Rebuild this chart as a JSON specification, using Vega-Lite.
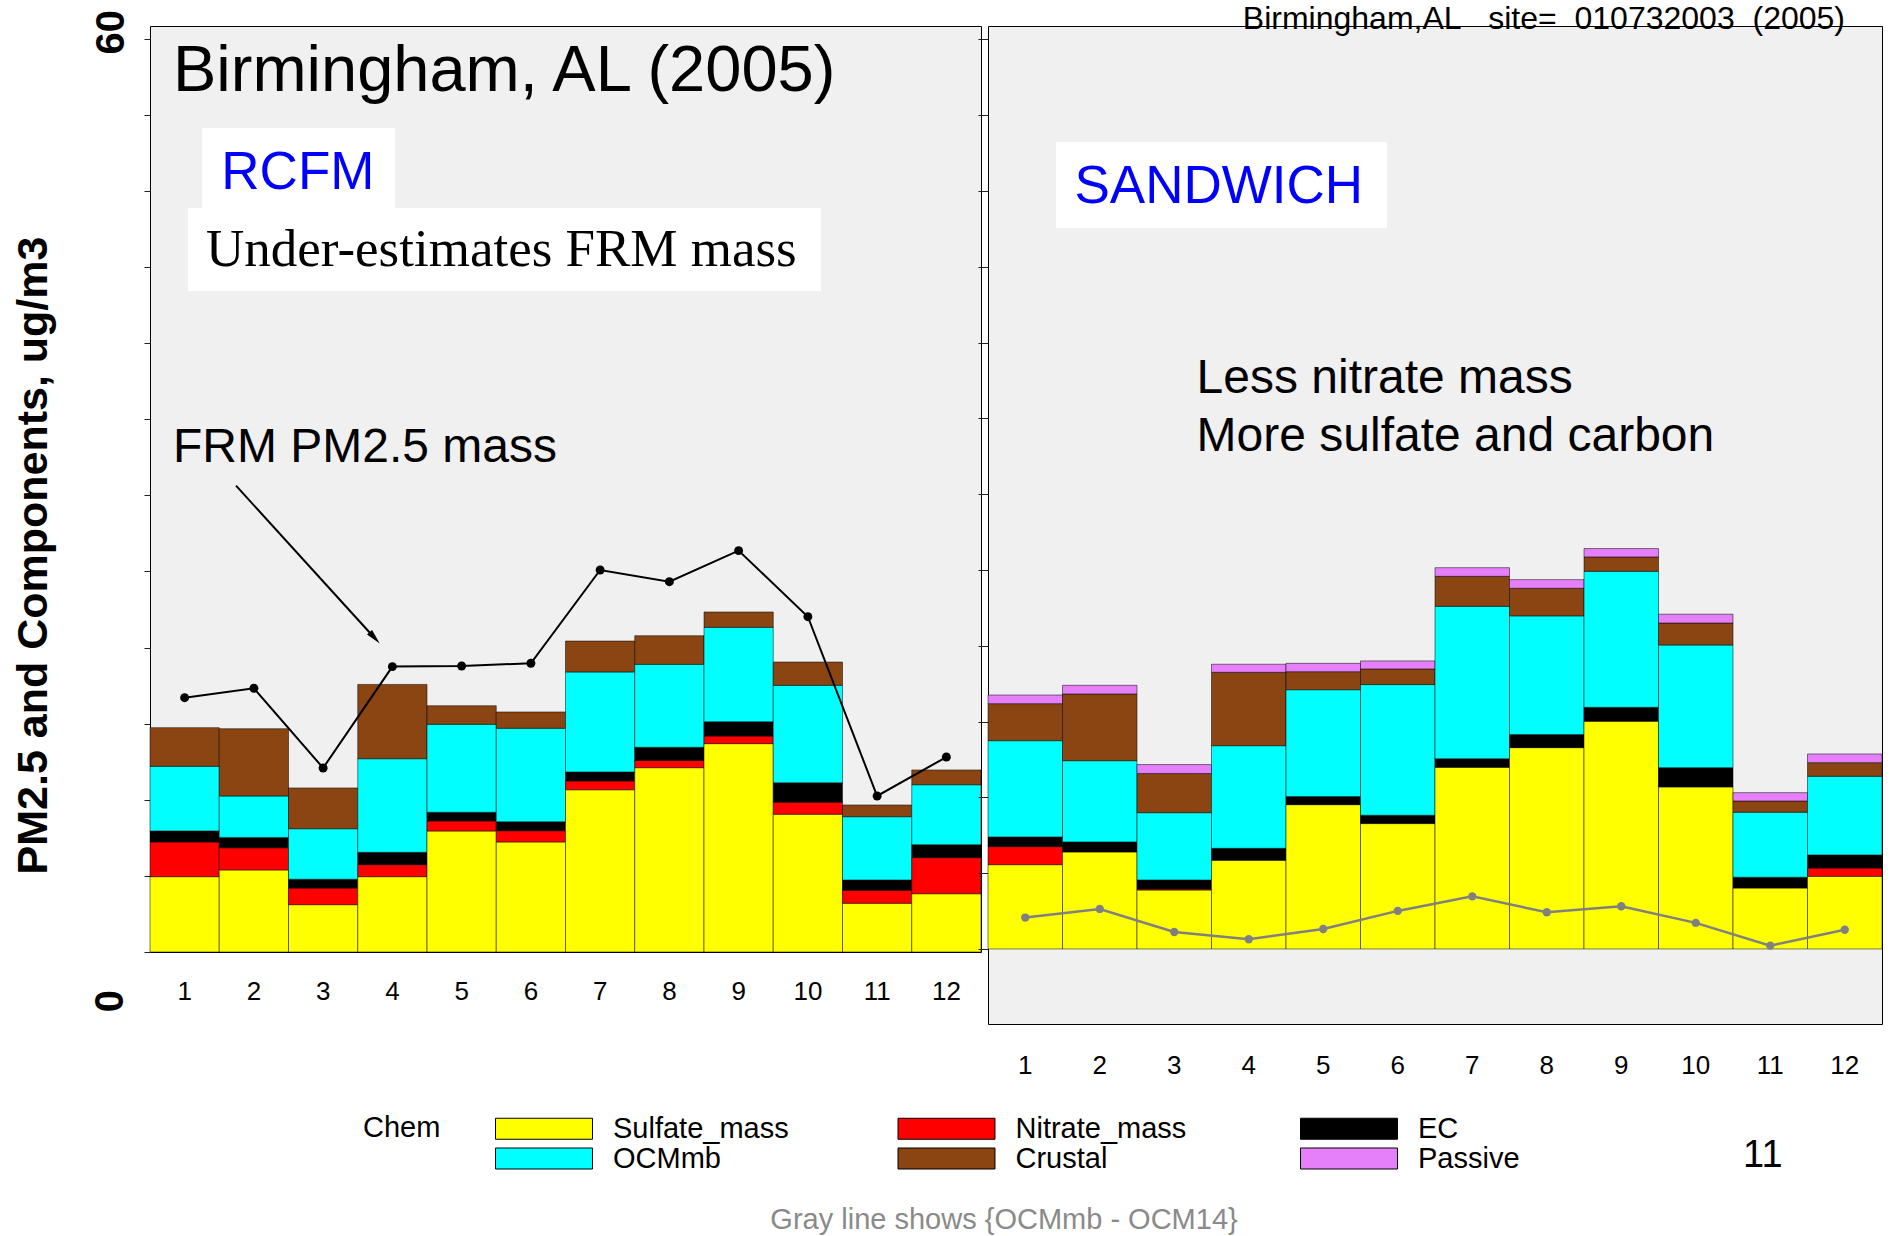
{
  "$schema": "https://vega.github.io/schema/vega-lite/v6.json",
  "background": "white",
  "autosize": {"type": "pad"},
  "padding": {"left": 11, "top": 2, "right": 5, "bottom": 0},
  "bounds": "flush",
  "spacing": 7,
  "config": {
    "font": "Liberation Sans",
    "view": {"fill": "#f0f0f0", "stroke": "black", "strokeWidth": 1},
    "axis": {"grid": false, "domain": false, "labelFont": "Liberation Sans", "labelColor": "black", "tickColor": "#222"},
    "text": {"font": "Liberation Sans", "color": "black"}
  },
  "datasets": {
    "rcfm": [
      {"month": 1, "chem": "Sulfate_mass", "value": 4.95}, {"month": 1, "chem": "Nitrate_mass", "value": 2.28}, {"month": 1, "chem": "EC", "value": 0.72}, {"month": 1, "chem": "OCMmb", "value": 4.25}, {"month": 1, "chem": "Crustal", "value": 2.54},
      {"month": 2, "chem": "Sulfate_mass", "value": 5.39}, {"month": 2, "chem": "Nitrate_mass", "value": 1.46}, {"month": 2, "chem": "EC", "value": 0.68}, {"month": 2, "chem": "OCMmb", "value": 2.72}, {"month": 2, "chem": "Crustal", "value": 4.42},
      {"month": 3, "chem": "Sulfate_mass", "value": 3.11}, {"month": 3, "chem": "Nitrate_mass", "value": 1.09}, {"month": 3, "chem": "EC", "value": 0.58}, {"month": 3, "chem": "OCMmb", "value": 3.32}, {"month": 3, "chem": "Crustal", "value": 2.68},
      {"month": 4, "chem": "Sulfate_mass", "value": 4.95}, {"month": 4, "chem": "Nitrate_mass", "value": 0.79}, {"month": 4, "chem": "EC", "value": 0.81}, {"month": 4, "chem": "OCMmb", "value": 6.15}, {"month": 4, "chem": "Crustal", "value": 4.88},
      {"month": 5, "chem": "Sulfate_mass", "value": 7.95}, {"month": 5, "chem": "Nitrate_mass", "value": 0.66}, {"month": 5, "chem": "EC", "value": 0.57}, {"month": 5, "chem": "OCMmb", "value": 5.78}, {"month": 5, "chem": "Crustal", "value": 1.22},
      {"month": 6, "chem": "Sulfate_mass", "value": 7.23}, {"month": 6, "chem": "Nitrate_mass", "value": 0.74}, {"month": 6, "chem": "EC", "value": 0.59}, {"month": 6, "chem": "OCMmb", "value": 6.14}, {"month": 6, "chem": "Crustal", "value": 1.07},
      {"month": 7, "chem": "Sulfate_mass", "value": 10.66}, {"month": 7, "chem": "Nitrate_mass", "value": 0.58}, {"month": 7, "chem": "EC", "value": 0.59}, {"month": 7, "chem": "OCMmb", "value": 6.57}, {"month": 7, "chem": "Crustal", "value": 2.03},
      {"month": 8, "chem": "Sulfate_mass", "value": 12.11}, {"month": 8, "chem": "Nitrate_mass", "value": 0.48}, {"month": 8, "chem": "EC", "value": 0.86}, {"month": 8, "chem": "OCMmb", "value": 5.45}, {"month": 8, "chem": "Crustal", "value": 1.88},
      {"month": 9, "chem": "Sulfate_mass", "value": 13.69}, {"month": 9, "chem": "Nitrate_mass", "value": 0.5}, {"month": 9, "chem": "EC", "value": 0.94}, {"month": 9, "chem": "OCMmb", "value": 6.2}, {"month": 9, "chem": "Crustal", "value": 1.01},
      {"month": 10, "chem": "Sulfate_mass", "value": 9.05}, {"month": 10, "chem": "Nitrate_mass", "value": 0.79}, {"month": 10, "chem": "EC", "value": 1.28}, {"month": 10, "chem": "OCMmb", "value": 6.4}, {"month": 10, "chem": "Crustal", "value": 1.53},
      {"month": 11, "chem": "Sulfate_mass", "value": 3.2}, {"month": 11, "chem": "Nitrate_mass", "value": 0.85}, {"month": 11, "chem": "EC", "value": 0.68}, {"month": 11, "chem": "OCMmb", "value": 4.16}, {"month": 11, "chem": "Crustal", "value": 0.77},
      {"month": 12, "chem": "Sulfate_mass", "value": 3.83}, {"month": 12, "chem": "Nitrate_mass", "value": 2.37}, {"month": 12, "chem": "EC", "value": 0.85}, {"month": 12, "chem": "OCMmb", "value": 3.94}, {"month": 12, "chem": "Crustal", "value": 0.97}
    ],
    "frm": [
      {"month": 1, "frm": 16.71}, {"month": 2, "frm": 17.33}, {"month": 3, "frm": 12.09}, {"month": 4, "frm": 18.75},
      {"month": 5, "frm": 18.79}, {"month": 6, "frm": 18.97}, {"month": 7, "frm": 25.1}, {"month": 8, "frm": 24.33},
      {"month": 9, "frm": 26.37}, {"month": 10, "frm": 22.03}, {"month": 11, "frm": 10.25}, {"month": 12, "frm": 12.81}
    ],
    "sandwich": [
      {"month": 1, "chem": "Sulfate_mass", "value": 5.56}, {"month": 1, "chem": "Nitrate_mass", "value": 1.19}, {"month": 1, "chem": "EC", "value": 0.64}, {"month": 1, "chem": "OCMmb", "value": 6.35}, {"month": 1, "chem": "Crustal", "value": 2.44}, {"month": 1, "chem": "Passive", "value": 0.57},
      {"month": 2, "chem": "Sulfate_mass", "value": 6.4}, {"month": 2, "chem": "EC", "value": 0.66}, {"month": 2, "chem": "OCMmb", "value": 5.36}, {"month": 2, "chem": "Crustal", "value": 4.4}, {"month": 2, "chem": "Passive", "value": 0.57},
      {"month": 3, "chem": "Sulfate_mass", "value": 3.89}, {"month": 3, "chem": "Nitrate_mass", "value": 0.07}, {"month": 3, "chem": "EC", "value": 0.59}, {"month": 3, "chem": "OCMmb", "value": 4.44}, {"month": 3, "chem": "Crustal", "value": 2.58}, {"month": 3, "chem": "Passive", "value": 0.59},
      {"month": 4, "chem": "Sulfate_mass", "value": 5.85}, {"month": 4, "chem": "EC", "value": 0.79}, {"month": 4, "chem": "OCMmb", "value": 6.77}, {"month": 4, "chem": "Crustal", "value": 4.84}, {"month": 4, "chem": "Passive", "value": 0.53},
      {"month": 5, "chem": "Sulfate_mass", "value": 9.52}, {"month": 5, "chem": "EC", "value": 0.53}, {"month": 5, "chem": "OCMmb", "value": 7.05}, {"month": 5, "chem": "Crustal", "value": 1.19}, {"month": 5, "chem": "Passive", "value": 0.55},
      {"month": 6, "chem": "Sulfate_mass", "value": 8.27}, {"month": 6, "chem": "EC", "value": 0.55}, {"month": 6, "chem": "OCMmb", "value": 8.62}, {"month": 6, "chem": "Crustal", "value": 1.03}, {"month": 6, "chem": "Passive", "value": 0.53},
      {"month": 7, "chem": "Sulfate_mass", "value": 11.98}, {"month": 7, "chem": "EC", "value": 0.57}, {"month": 7, "chem": "OCMmb", "value": 10.05}, {"month": 7, "chem": "Crustal", "value": 1.98}, {"month": 7, "chem": "Passive", "value": 0.57},
      {"month": 8, "chem": "Sulfate_mass", "value": 13.28}, {"month": 8, "chem": "EC", "value": 0.86}, {"month": 8, "chem": "OCMmb", "value": 7.83}, {"month": 8, "chem": "Crustal", "value": 1.82}, {"month": 8, "chem": "Passive", "value": 0.57},
      {"month": 9, "chem": "Sulfate_mass", "value": 15.02}, {"month": 9, "chem": "EC", "value": 0.92}, {"month": 9, "chem": "OCMmb", "value": 8.97}, {"month": 9, "chem": "Crustal", "value": 0.95}, {"month": 9, "chem": "Passive", "value": 0.55},
      {"month": 10, "chem": "Sulfate_mass", "value": 10.69}, {"month": 10, "chem": "EC", "value": 1.27}, {"month": 10, "chem": "OCMmb", "value": 8.09}, {"month": 10, "chem": "Crustal", "value": 1.45}, {"month": 10, "chem": "Passive", "value": 0.58},
      {"month": 11, "chem": "Sulfate_mass", "value": 4.02}, {"month": 11, "chem": "EC", "value": 0.71}, {"month": 11, "chem": "OCMmb", "value": 4.29}, {"month": 11, "chem": "Crustal", "value": 0.74}, {"month": 11, "chem": "Passive", "value": 0.55},
      {"month": 12, "chem": "Sulfate_mass", "value": 4.79}, {"month": 12, "chem": "Nitrate_mass", "value": 0.55}, {"month": 12, "chem": "EC", "value": 0.86}, {"month": 12, "chem": "OCMmb", "value": 5.19}, {"month": 12, "chem": "Crustal", "value": 0.9}, {"month": 12, "chem": "Passive", "value": 0.57}
    ],
    "ocmdiff": [
      {"month": 1, "diff": 2.07}, {"month": 2, "diff": 2.64}, {"month": 3, "diff": 1.12}, {"month": 4, "diff": 0.64},
      {"month": 5, "diff": 1.32}, {"month": 6, "diff": 2.51}, {"month": 7, "diff": 3.47}, {"month": 8, "diff": 2.42},
      {"month": 9, "diff": 2.82}, {"month": 10, "diff": 1.72}, {"month": 11, "diff": 0.22}, {"month": 12, "diff": 1.27}
    ]
  },
  "hconcat": [
    {
      "width": 831,
      "height": 926,
      "resolve": {"scale": {"x": "independent"}},
      "layer": [
        {
          "data": {"name": "rcfm"},
          "transform": [
            {"calculate": "indexof(['Sulfate_mass', 'Nitrate_mass', 'EC', 'OCMmb', 'Crustal', 'Passive'], datum.chem)", "as": "stackRank"}
          ],
          "mark": {"type": "bar", "stroke": "black", "strokeWidth": 1, "strokeOpacity": 0.5},
          "encoding": {
            "x": {"field": "month", "type": "ordinal", "scale": {"paddingInner": 0, "paddingOuter": 0},
                  "axis": {"title": null, "labelAngle": 0, "ticks": false, "tickSize": 0, "labelPadding": 26, "labelFontSize": 26}},
            "y": {"field": "value", "type": "quantitative", "stack": "zero",
                  "scale": {"domain": [0, 60.84], "nice": false, "zero": false},
                  "axis": {
                    "title": "PM2.5 and Components, ug/m3",
                    "titleFont": "Liberation Sans", "titleFontSize": 43, "titleFontWeight": "bold", "titleColor": "black",
                    "titleAngle": -90, "titleAlign": "center", "titleBaseline": "middle", "titleX": -117, "titleY": 529,
                    "values": [0, 5, 10, 15, 20, 25, 30, 35, 40, 45, 50, 55, 60],
                    "labelExpr": "datum.value == 60 ? datum.label : ''",
                    "labelAngle": -90, "labelAlign": "center", "labelBaseline": "middle",
                    "labelFontSize": 40, "labelFontWeight": "bold", "labelPadding": 33, "labelOffset": -7,
                    "labelOverlap": false, "labelBound": false, "labelFlush": false,
                    "tickSize": 6
                  }},
            "order": {"field": "stackRank", "type": "quantitative"},
            "color": {
              "field": "chem", "type": "nominal",
              "sort": ["Sulfate_mass", "Nitrate_mass", "EC", "OCMmb", "Crustal", "Passive"],
              "scale": {"domain": ["Sulfate_mass", "Nitrate_mass", "EC", "OCMmb", "Crustal", "Passive"],
                        "range": ["#FFFF00", "#FF0000", "#000000", "#00FFFF", "#8B4513", "#E680FA"]},
              "legend": {
                "title": "Chem", "titleOrient": "left", "titleFontSize": 29, "titleFontWeight": "normal", "titleColor": "black",
                "titlePadding": 88.5, "titleAnchor": "start", "titleBaseline": "top",
                "orient": "none", "legendX": 213, "legendY": 1088, "padding": 0,
                "direction": "horizontal", "columns": 3, "gridAlign": "all", "columnPadding": 106.5, "rowPadding": -5.4,
                "symbolType": "M-4,-0.866H4V0.866H-4Z", "symbolSize": 588,
                "symbolStrokeColor": "black", "symbolStrokeWidth": 1, "symbolOpacity": 1,
                "labelFontSize": 29, "labelOffset": 54.5, "labelColor": "black", "labelLimit": 600
              }
            }
          }
        },
        {
          "data": {"name": "frm"},
          "mark": {"type": "line", "color": "black", "strokeWidth": 2, "point": {"filled": true, "size": 80, "color": "black"}},
          "encoding": {
            "x": {"field": "month", "type": "ordinal", "axis": null},
            "y": {"field": "frm", "type": "quantitative", "scale": {"domain": [0, 60.84], "nice": false, "zero": false}}
          }
        },
        {
          "data": {"values": [{}]},
          "mark": {"type": "rect", "fill": "white"},
          "encoding": {
            "x": {"datum": 1.251, "type": "quantitative", "scale": {"domain": [0.5, 12.5], "nice": false, "zero": false}, "axis": null},
            "x2": {"datum": 4.038},
            "y": {"datum": 54.14, "type": "quantitative", "scale": {"domain": [0, 60.84], "nice": false, "zero": false}},
            "y2": {"datum": 48.88}
          }
        },
        {
          "data": {"values": [{}]},
          "mark": {"type": "rect", "fill": "white"},
          "encoding": {
            "x": {"datum": 1.049, "type": "quantitative", "scale": {"domain": [0.5, 12.5], "nice": false, "zero": false}, "axis": null},
            "x2": {"datum": 10.19},
            "y": {"datum": 48.88, "type": "quantitative", "scale": {"domain": [0, 60.84], "nice": false, "zero": false}},
            "y2": {"datum": 43.43}
          }
        },
        {
          "data": {"values": [{}]},
          "mark": {"type": "text", "text": "Birmingham, AL (2005)", "fontSize": 65, "align": "left", "baseline": "alphabetic"},
          "encoding": {
            "x": {"datum": 0.832, "type": "quantitative", "scale": {"domain": [0.5, 12.5], "nice": false, "zero": false}, "axis": null},
            "y": {"datum": 56.6, "type": "quantitative", "scale": {"domain": [0, 60.84], "nice": false, "zero": false}}
          }
        },
        {
          "data": {"values": [{}]},
          "mark": {"type": "text", "text": "RCFM", "fontSize": 53, "align": "left", "baseline": "alphabetic", "color": "#0000FF"},
          "encoding": {
            "x": {"datum": 1.53, "type": "quantitative", "scale": {"domain": [0.5, 12.5], "nice": false, "zero": false}, "axis": null},
            "y": {"datum": 50.1, "type": "quantitative", "scale": {"domain": [0, 60.84], "nice": false, "zero": false}}
          }
        },
        {
          "data": {"values": [{}]},
          "mark": {"type": "text", "text": "Under-estimates FRM mass", "font": "Liberation Serif", "fontSize": 53, "align": "left", "baseline": "alphabetic"},
          "encoding": {
            "x": {"datum": 1.309, "type": "quantitative", "scale": {"domain": [0.5, 12.5], "nice": false, "zero": false}, "axis": null},
            "y": {"datum": 45.05, "type": "quantitative", "scale": {"domain": [0, 60.84], "nice": false, "zero": false}}
          }
        },
        {
          "data": {"values": [{}]},
          "mark": {"type": "text", "text": "FRM PM2.5 mass", "fontSize": 48, "align": "left", "baseline": "alphabetic"},
          "encoding": {
            "x": {"datum": 0.832, "type": "quantitative", "scale": {"domain": [0.5, 12.5], "nice": false, "zero": false}, "axis": null},
            "y": {"datum": 32.2, "type": "quantitative", "scale": {"domain": [0, 60.84], "nice": false, "zero": false}}
          }
        },
        {
          "data": {"values": [{}]},
          "mark": {"type": "rule", "color": "black", "strokeWidth": 2},
          "encoding": {
            "x": {"datum": 1.742, "type": "quantitative", "scale": {"domain": [0.5, 12.5], "nice": false, "zero": false}, "axis": null},
            "x2": {"datum": 3.76},
            "y": {"datum": 30.64, "type": "quantitative", "scale": {"domain": [0, 60.84], "nice": false, "zero": false}},
            "y2": {"datum": 20.55}
          }
        },
        {
          "data": {"values": [{}]},
          "mark": {"type": "point", "shape": "M0,-1L0.45,1L-0.45,1Z", "size": 230, "filled": true, "color": "black", "opacity": 1, "angle": 137.8},
          "encoding": {
            "x": {"datum": 3.744, "type": "quantitative", "scale": {"domain": [0.5, 12.5], "nice": false, "zero": false}, "axis": null},
            "y": {"datum": 20.64, "type": "quantitative", "scale": {"domain": [0, 60.84], "nice": false, "zero": false}}
          }
        },
        {
          "data": {"values": [{}]},
          "mark": {"type": "text", "text": "0", "fontSize": 40, "fontWeight": "bold", "angle": 270, "align": "center", "baseline": "middle"},
          "encoding": {
            "x": {"datum": -0.063, "type": "quantitative", "scale": {"domain": [0.5, 12.5], "nice": false, "zero": false}, "axis": null},
            "y": {"datum": -3.22, "type": "quantitative", "scale": {"domain": [0, 60.84], "nice": false, "zero": false}}
          }
        }
      ]
    },
    {
      "width": 894,
      "height": 998,
      "resolve": {"scale": {"x": "independent"}},
      "layer": [
        {
          "data": {"name": "sandwich"},
          "transform": [
            {"calculate": "indexof(['Sulfate_mass', 'Nitrate_mass', 'EC', 'OCMmb', 'Crustal', 'Passive'], datum.chem)", "as": "stackRank"}
          ],
          "mark": {"type": "bar", "stroke": "black", "strokeWidth": 1, "strokeOpacity": 0.5},
          "encoding": {
            "x": {"field": "month", "type": "ordinal", "scale": {"paddingInner": 0, "paddingOuter": 0},
                  "axis": {"title": null, "labelAngle": 0, "ticks": false, "tickSize": 0, "labelPadding": 28.5, "labelFontSize": 26}},
            "y": {"field": "value", "type": "quantitative", "stack": "zero",
                  "scale": {"domain": [-4.95, 60.88], "nice": false, "zero": false},
                  "axis": {"title": null, "labels": false, "values": [0, 5, 10, 15, 20, 25, 30, 35, 40, 45, 50, 55, 60], "tickSize": 10}},
            "order": {"field": "stackRank", "type": "quantitative"},
            "color": {
              "field": "chem", "type": "nominal",
              "sort": ["Sulfate_mass", "Nitrate_mass", "EC", "OCMmb", "Crustal", "Passive"],
              "scale": {"domain": ["Sulfate_mass", "Nitrate_mass", "EC", "OCMmb", "Crustal", "Passive"],
                        "range": ["#FFFF00", "#FF0000", "#000000", "#00FFFF", "#8B4513", "#E680FA"]}
            }
          }
        },
        {
          "data": {"name": "ocmdiff"},
          "mark": {"type": "line", "color": "#808080", "strokeWidth": 2.5, "point": {"filled": true, "size": 70, "color": "#808080"}},
          "encoding": {
            "x": {"field": "month", "type": "ordinal", "axis": null},
            "y": {"field": "diff", "type": "quantitative", "scale": {"domain": [-4.95, 60.88], "nice": false, "zero": false}}
          }
        },
        {
          "data": {"values": [{}]},
          "mark": {"type": "rect", "fill": "white"},
          "encoding": {
            "x": {"datum": 1.413, "type": "quantitative", "scale": {"domain": [0.5, 12.5], "nice": false, "zero": false}, "axis": null},
            "x2": {"datum": 5.856},
            "y": {"datum": 53.23, "type": "quantitative", "scale": {"domain": [-4.95, 60.88], "nice": false, "zero": false}},
            "y2": {"datum": 47.56}
          }
        },
        {
          "data": {"values": [{}]},
          "mark": {"type": "text", "text": "SANDWICH", "fontSize": 53, "align": "left", "baseline": "alphabetic", "color": "#0000FF"},
          "encoding": {
            "x": {"datum": 1.661, "type": "quantitative", "scale": {"domain": [0.5, 12.5], "nice": false, "zero": false}, "axis": null},
            "y": {"datum": 49.2, "type": "quantitative", "scale": {"domain": [-4.95, 60.88], "nice": false, "zero": false}}
          }
        },
        {
          "data": {"values": [{}]},
          "mark": {"type": "text", "text": "Less nitrate mass", "fontSize": 48, "align": "left", "baseline": "alphabetic"},
          "encoding": {
            "x": {"datum": 3.3, "type": "quantitative", "scale": {"domain": [0.5, 12.5], "nice": false, "zero": false}, "axis": null},
            "y": {"datum": 36.7, "type": "quantitative", "scale": {"domain": [-4.95, 60.88], "nice": false, "zero": false}}
          }
        },
        {
          "data": {"values": [{}]},
          "mark": {"type": "text", "text": "More sulfate and carbon", "fontSize": 48, "align": "left", "baseline": "alphabetic"},
          "encoding": {
            "x": {"datum": 3.3, "type": "quantitative", "scale": {"domain": [0.5, 12.5], "nice": false, "zero": false}, "axis": null},
            "y": {"datum": 32.85, "type": "quantitative", "scale": {"domain": [-4.95, 60.88], "nice": false, "zero": false}}
          }
        },
        {
          "data": {"values": [{}]},
          "mark": {"type": "text", "text": "Birmingham,AL\u00a0\u00a0\u00a0site=\u00a0\u00a0010732003\u00a0\u00a0(2005)", "fontSize": 32, "align": "right", "baseline": "alphabetic"},
          "encoding": {
            "x": {"datum": 12.003, "type": "quantitative", "scale": {"domain": [0.5, 12.5], "nice": false, "zero": false}, "axis": null},
            "y": {"datum": 60.66, "type": "quantitative", "scale": {"domain": [-4.95, 60.88], "nice": false, "zero": false}}
          }
        },
        {
          "data": {"values": [{}]},
          "mark": {"type": "text", "text": "11", "fontSize": 38, "align": "center", "baseline": "alphabetic"},
          "encoding": {
            "x": {"datum": 10.9, "type": "quantitative", "scale": {"domain": [0.5, 12.5], "nice": false, "zero": false}, "axis": null},
            "y": {"datum": -14.4, "type": "quantitative", "scale": {"domain": [-4.95, 60.88], "nice": false, "zero": false}}
          }
        },
        {
          "data": {"values": [{}]},
          "mark": {"type": "text", "text": "Gray line shows {OCMmb - OCM14}", "fontSize": 29, "align": "center", "baseline": "alphabetic", "color": "#8a8a8a"},
          "encoding": {
            "x": {"datum": 0.715, "type": "quantitative", "scale": {"domain": [0.5, 12.5], "nice": false, "zero": false}, "axis": null},
            "y": {"datum": -18.47, "type": "quantitative", "scale": {"domain": [-4.95, 60.88], "nice": false, "zero": false}}
          }
        }
      ]
    }
  ]
}
